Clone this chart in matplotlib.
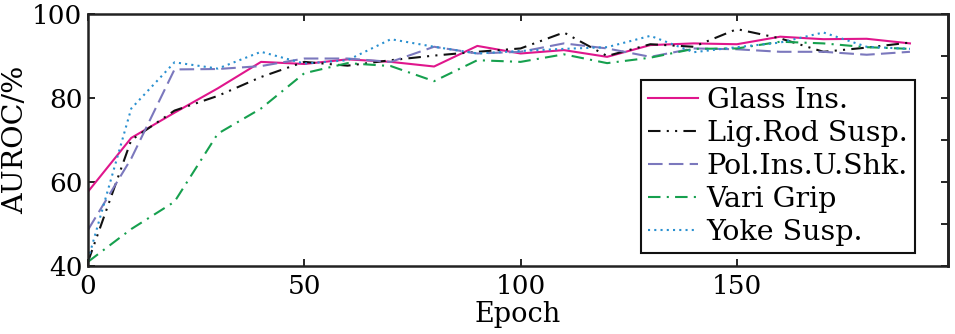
import matplotlib
matplotlib.use("Agg")
import matplotlib.pyplot as plt
import numpy as np

# epochs sampled every 10
epochs = np.arange(0, 200, 10)

glass_ins = [57.7, 70.5, 76.5, 82.3, 88.6, 88.1, 89.2, 88.6, 87.5, 92.4,
             90.6, 91.4, 89.8, 92.6, 93.0, 92.8, 94.6, 94.0, 94.1, 93.0]
lig_rod_susp = [41.0, 70.0, 77.0, 80.5, 85.0, 88.6, 87.7, 89.0, 90.1, 91.0,
                91.8, 95.6, 90.0, 92.8, 92.2, 96.4, 94.2, 91.0, 92.0, 93.2]
pol_ins_u_shk = [48.6, 65.6, 86.8, 86.9, 87.6, 89.4, 89.4, 88.6, 92.2, 90.6,
                 91.0, 93.0, 91.8, 89.8, 91.8, 91.6, 91.0, 91.0, 90.3, 91.0]
vari_grip = [41.0, 48.8, 55.3, 71.5, 77.5, 85.9, 88.3, 87.6, 84.0, 89.0,
             88.6, 90.4, 88.3, 89.6, 91.7, 91.8, 93.4, 93.0, 92.1, 91.7]
yoke_susp = [41.5, 77.5, 88.5, 87.0, 91.0, 88.2, 89.0, 94.0, 92.2, 90.6,
             91.2, 91.7, 92.1, 94.8, 90.9, 92.1, 93.2, 95.6, 92.2, 91.7]

labels = ["Glass Ins.", "Lig.Rod Susp.", "Pol.Ins.U.Shk.", "Vari Grip", "Yoke Susp."]

plt.rcParams["font.family"] = ["DejaVu Serif"]
plt.rcParams["mathtext.fontset"] = "dejavuserif"

fig = plt.figure(figsize=(9.55, 3.34), dpi=100)
ax = fig.add_axes([88 / 955, 68 / 334, 860 / 955, 252 / 334])

ax.plot(epochs, glass_ins, color="#e0168c", lw=1.5, ls="-", label=labels[0])
ax.plot(epochs, lig_rod_susp, color="#111111", lw=1.5,
        ls=(0, (6, 3, 1, 3, 1, 3)), label=labels[1])
ax.plot(epochs, pol_ins_u_shk, color="#7b78bd", lw=1.5, ls=(0, (7, 3)), label=labels[2])
ax.plot(epochs, vari_grip, color="#16a04e", lw=1.5, ls=(0, (6, 3, 1, 3)), label=labels[3])
ax.plot(epochs, yoke_susp, color="#2a90d0", lw=1.5, ls=(0, (1, 2)), label=labels[4])

ax.set_xlim(0, 198.8)
ax.set_ylim(40, 100)
ax.set_xticks([0, 50, 100, 150])
ax.set_yticks([40, 60, 80, 100])
ax.tick_params(direction="in", length=5, width=1.2, labelsize=19, top=True, right=False)
ax.tick_params(axis="x", pad=6)
ax.tick_params(axis="y", pad=4)

# right side has finer ticks (every 10), unlabelled
rax = ax.secondary_yaxis("right")
rax.set_yticks(np.arange(40, 101, 10))
rax.tick_params(direction="in", length=5, width=1.2, labelright=False)
rax.spines["right"].set_linewidth(1.8)

for sp in ax.spines.values():
    sp.set_linewidth(1.8)
    sp.set_color("#222222")

ax.set_xlabel("Epoch", fontsize=19.5, labelpad=1)
ax.set_ylabel("AUROC/%", fontsize=20.5, labelpad=2)

leg = ax.legend(loc="lower right", bbox_to_anchor=(827 / 860, 13 / 252),
                borderaxespad=0, fontsize=20.5, fancybox=False, framealpha=1,
                edgecolor="#111111", handlelength=1.75, handletextpad=0.3,
                labelspacing=0.21, borderpad=0.25)
leg.get_frame().set_linewidth(1.5)

fig.savefig("out.png", dpi=100)
